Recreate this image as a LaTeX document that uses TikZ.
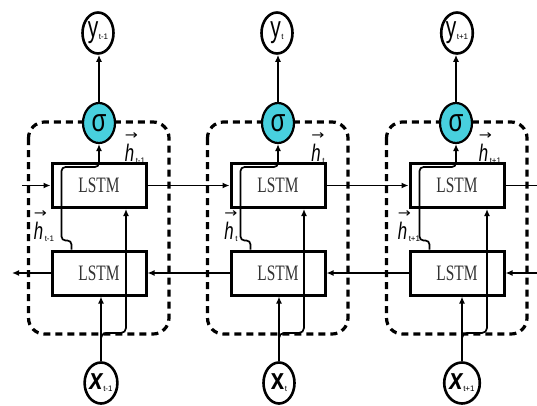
\documentclass[tikz,border=0pt]{standalone}
\usepackage{fontspec}
\setmainfont{Liberation Sans}
\newfontfamily\lstmfont{Liberation Serif}
\newfontfamily\symfont{DejaVu Sans}
\usetikzlibrary{arrows.meta,shapes.geometric,calc}
\definecolor{sigcyan}{RGB}{72,208,222}
\definecolor{lstmgray}{RGB}{50,50,50}

% letter with a small subscript, used inside the round input/output nodes
\newcommand{\iolabel}[4]{{#1\scalebox{#4}[1]{\fontsize{30}{30}\selectfont #2}}\hspace{0.5pt}\raisebox{-2pt}{\fontsize{8}{8}\selectfont #3}}
% hidden state: italic h with a vector arrow above it
\newcommand{\hvec}[1]{\begin{tabular}{@{}l@{}}%
  \scalebox{1.2}[1]{\symfont\fontsize{13}{13}\selectfont →}\\[1pt]%
  \scalebox{0.7}[1]{\fontsize{24}{24}\selectfont\itshape h}\hspace{1.5pt}\raisebox{-2pt}{\fontsize{8}{8}\selectfont #1}%
\end{tabular}}

\tikzset{
  cell/.style={draw, line width=3pt, minimum width=94pt, minimum height=44pt,
    inner sep=0pt, text=lstmgray,
    font=\lstmfont\fontsize{22}{22}\selectfont},
  gate/.style={ellipse, draw, line width=2.2pt, fill=sigcyan,
    minimum width=32pt, minimum height=40pt, inner sep=0pt},
  io/.style={ellipse, draw, line width=2.6pt, fill=white,
    minimum width=31pt, minimum height=41pt, inner sep=0pt},
  frame/.style={line width=3.2pt, dash pattern=on 7pt off 5pt, rounded corners=16pt},
  link/.style={line width=1.7pt, -{Latex[length=7pt,width=6pt]}},
  plainlink/.style={line width=1.7pt},
  hlabel/.style={inner sep=0pt},
}

\begin{document}
\begin{tikzpicture}[x=1pt, y=-1pt]
\useasboundingbox (0,0) rectangle (537,405);

\foreach \i/\bx/\sx/\yx/\xx/\hux/\hlx/\sub/\xstyle in
  {1/99/99/98/101/135/44/{t-1}/\bfseries\itshape,
   2/278/278/277/279/318/231/{t}/\bfseries,
   3/457/456/457/462/490/409/{t+1}/\bfseries\itshape}{
  % dashed frame around one time step
  \draw[frame] (\bx-70.5,122) rectangle (\bx+70,334);
  % forward and backward cells
  \node[cell] (up\i) at (\bx,185.5) {\scalebox{0.7}[1]{LSTM}};
  \node[cell] (lo\i) at (\bx,273) {\scalebox{0.7}[1]{LSTM}};
  % output gate, output and input
  \node[gate] (sg\i) at (\sx,123) {\scalebox{0.75}[1]{\fontsize{32}{32}\selectfont σ}};
  \node[io] (y\i) at (\yx,33) {\iolabel{}{y}{\sub}{0.7}};
  \node[io] (x\i) at (\xx,383) {\iolabel{\xstyle}{x}{\sub}{0.8}};
  % hidden state labels
  \node[hlabel] (hu\i) at (\hux,148) {\hvec{\sub}};
  \node[hlabel] (hl\i) at (\hlx,226) {\hvec{\sub}};

  % output of the gate
  \draw[link] (sg\i.north) -- (sg\i.north |- y\i.south);
  % input into the backward cell
  \draw[link] (x\i.north) -- (x\i.north |- lo\i.south);
  % input branch into the forward cell
  \coordinate (br\i) at (\xx+25,333);
  \draw[link, rounded corners=5pt] (x\i.north) -- (x\i.north |- br\i) -- (br\i) -- (br\i |- up\i.south);
  % backward state up to the gate
  \coordinate (st\i) at ($(lo\i.north west)+(21,0)$);
  \coordinate (jg\i) at ($(lo\i.north west)+(11,-9)$);
  \coordinate (tp\i) at ($(up\i.north west)+(11,5)$);
  \draw[link, rounded corners=4pt] (st\i) -- (st\i |- jg\i) -- (jg\i) -- (tp\i) -- (tp\i -| sg\i.south) -- (sg\i.south);
}

% forward chain
\coordinate (inL) at (22,185.5);
\coordinate (outR) at (537,185.5);
\draw[link] (inL) -- (up1.west);
\draw[link] (up1.east) -- (up2.west);
\draw[link] (up2.east) -- (up3.west);
\draw[plainlink] (up3.east) -- (outR);

% backward chain
\coordinate (inR) at (537,273);
\coordinate (outL) at (12,273);
\draw[link] (inR) -- (lo3.east);
\draw[link] (lo3.west) -- (lo2.east);
\draw[link] (lo2.west) -- (lo1.east);
\draw[link] (lo1.west) -- (outL);
\end{tikzpicture}
\end{document}
